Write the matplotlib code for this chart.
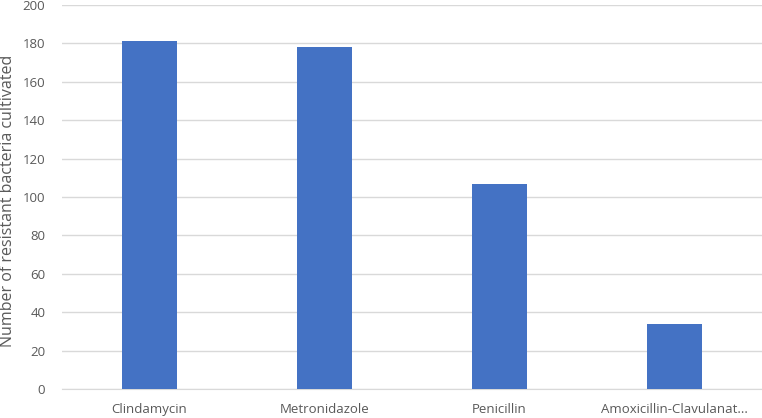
import matplotlib
matplotlib.use('Agg')
import matplotlib.pyplot as plt

# data
drugs = ['Clindamycin', 'Metronidazole', 'Penicillin', 'Amoxicillin-Clavulanat...']
resistant = [181, 178, 107, 34]
yticks = [0, 20, 40, 60, 80, 100, 120, 140, 160, 180, 200]

plt.rcParams['font.family'] = ['Open Sans', 'DejaVu Sans']
grey = '#595959'

fig = plt.figure(figsize=(7.62, 4.18), dpi=100)
ax = fig.add_axes([0.0814, 0.0694, 0.9186, 0.9186])

x = range(len(drugs))
ax.bar(x, resistant, width=0.314, color='#4472C4', zorder=3)

ax.set_xlim(-0.5, len(drugs) - 0.5)
ax.set_ylim(0, 200)
ax.set_yticks(yticks)
ax.set_xticks(list(x))
ax.set_xticklabels(drugs)
ax.grid(axis='y', color='#D9D9D9', linewidth=1, zorder=0)
for s in ['top', 'right', 'left']:
    ax.spines[s].set_visible(False)
ax.spines['bottom'].set_color('#D9D9D9')
ax.tick_params(axis='both', length=0, colors=grey, labelsize=9.5)
ax.tick_params(axis='x', pad=10)
ax.tick_params(axis='y', pad=12)
ax.set_ylabel('Number of resistant bacteria cultivated', color=grey, fontsize=11.5)
ax.yaxis.set_label_coords(-0.066, 0.49)

fig.savefig('out.png', dpi=100)
